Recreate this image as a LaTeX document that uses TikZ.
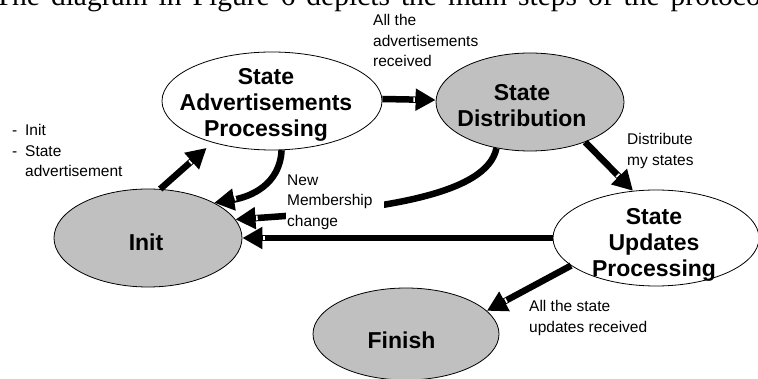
\documentclass[tikz,border=0pt]{standalone}
\usepackage{fontspec}
\setmainfont{Liberation Serif}
\setsansfont{Liberation Sans}
\usetikzlibrary{arrows.meta,shapes.geometric,decorations.markings}
\definecolor{stategray}{RGB}{192,192,192}
\begin{document}
\begin{tikzpicture}[x=1pt,y=-1pt,
  statebase/.style={ellipse, draw=black, line width=0.8pt, inner sep=0pt},
  openstate/.style={statebase, fill=white},
  shadedstate/.style={statebase, fill=stategray},
  title/.style={font=\sffamily\bfseries\fontsize{23}{26}\selectfont, align=center, inner sep=0pt, anchor=north},
  note/.style={font=\sffamily\fontsize{15.5}{20.5}\selectfont, align=left, inner sep=0pt, anchor=north west},
  flow/.style={line width=6.5pt, -{Triangle[length=20pt,width=21pt]}},
  notch/.style={postaction={decorate, decoration={markings,
      mark=at position -#1 with {\fill[white] (-0.8pt,-2.3pt) rectangle (0.8pt,2.3pt);}}}},
  notch/.default=21.5pt
]
\useasboundingbox (0,0) rectangle (758,379);

% running text line above the figure
\begin{scope}
  \clip (0,0) rectangle (758,379);
  \node[anchor=base west, inner sep=0pt, font=\fontsize{29.5}{30}\selectfont] (caption) at (-6,6)
    {\spaceskip=11pt The diagram in Figure 6 depicts the main steps of the protocol};
\end{scope}

% protocol states
\node[openstate,   minimum width=220pt, minimum height=98pt] (sap)  at (272,101) {};
\node[shadedstate, minimum width=188pt, minimum height=98pt] (sd)   at (530,102) {};
\node[openstate,   minimum width=206pt, minimum height=96pt] (sup)  at (656,238) {};
\node[shadedstate, minimum width=188pt, minimum height=98pt] (init) at (148,238) {};
\node[shadedstate, minimum width=186pt, minimum height=92pt] (fin)  at (406,334) {};

\node[title] (sapt)  at (266,68.5)  {State\\Advertisements\\Processing};
\node[title] (sdt)   at (522,84.5)  {State\\Distribution};
\node[title] (supt)  at (654,208.5) {State\\Updates\\Processing};
\node[title] (initt) at (146,233.5) {Init};
\node[title] (fint)  at (401.5,331.5) {Finish};

% transitions
\draw[flow, shorten >=8pt, notch=29.5pt] (init.76) -- (sap.215);
\draw[flow, notch] ([yshift=2pt]sap.east) -- ([yshift=2pt]sd.west);
\draw[flow, notch] (sd.-36) -- (sup.116);
\draw[flow, notch] (sap.-79) .. controls (280,185) and (250,197) .. (init.28);
\draw[flow, notch] (sd.234) .. controls (487,195) and (380,210) .. (init.12);
\draw[flow, notch] (sup.west) -- (init.east);
\draw[flow, notch] (sup.198) -- (fin.16);

% transition conditions
\node[note] (cond1) at (12,124.5)
  {\makebox[13pt][l]{-}Init\\\makebox[13pt][l]{-}State\\\hspace*{13pt}advertisement};
\node[note] (cond2) at (373,14.5) {All the\\advertisements\\received};
\node[note] (cond3) at (627,133.5) {Distribute\\my states};
\node[note, fill=white, inner sep=1pt, text width=96pt] (cond4) at (286,173.5)
  {New\\Membership\\change};
\node[note] (cond5) at (529,300.5) {All the state\\updates received};
\end{tikzpicture}
\end{document}
